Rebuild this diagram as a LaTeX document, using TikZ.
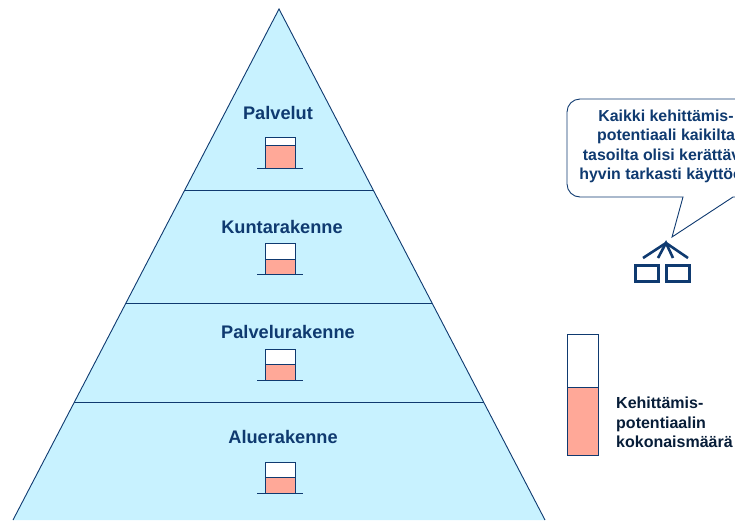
\documentclass[tikz,border=0pt]{standalone}
\usepackage{fontspec}
\setmainfont{Liberation Sans}
\usetikzlibrary{positioning}
\definecolor{navy}{HTML}{0F3A70}
\definecolor{pyrfill}{HTML}{C8F2FF}
\definecolor{barred}{HTML}{FFA898}
\tikzset{
levellabel/.style={
  font=\fontsize{18.2}{22}\selectfont\bfseries,
  text=navy,
  inner sep=0pt,
  }
}
\tikzset{
barempty/.style={
  rectangle,
  draw=navy,
  line width=0.9pt,
  fill=white,
  minimum width=30.5pt,
  inner sep=0pt,
  outer sep=0pt,
  }
}
\tikzset{
barfull/.style={
  barempty,
  fill=barred,
  }
}
\tikzset{
myline/.style={
  draw=navy,
  line width=0.9pt,
  }
}
\tikzset{
iconbox/.style={
  rectangle,
  draw=navy,
  line width=2.6pt,
  minimum width=23pt,
  minimum height=16pt,
  inner sep=0pt,
  }
}
\begin{document}
\begin{tikzpicture}[x=1pt,y=-1pt]
    \clip (0,0) rectangle (735,520);

    % pyramid
    \coordinate (apex) at (279,9);
    \coordinate (left) at (13,520);
    \coordinate (right) at (545,520);
    \path [myline, fill=pyrfill] (left) -- (apex) -- (right);
    \coordinate (sep1l) at (184.8,190);
    \coordinate (sep1r) at (373.2,190);
    \coordinate (sep2l) at (126,303);
    \coordinate (sep2r) at (432,303);
    \coordinate (sep3l) at (74.4,402);
    \coordinate (sep3r) at (483.6,402);
    \draw[myline] (sep1l) -- (sep1r);
    \draw[myline] (sep2l) -- (sep2r);
    \draw[myline] (sep3l) -- (sep3r);

    % level labels
    \node[levellabel] (palvelut) at (278,112.5) {Palvelut};
    \node[levellabel] (kunta) at (282,226.5) {Kuntarakenne};
    \node[levellabel] (palvelu) at (288,331.5) {Palvelurakenne};
    \node[levellabel] (alue) at (283,437) {Aluerakenne};

    % small bars
    \node[barempty, minimum height=8pt] (pal_e) at (280.5,141) {};
    \node[barfull, minimum height=23pt, below=0pt of pal_e] (pal_f) {};
    \draw[myline] ([xshift=-8pt]pal_f.south west) -- ([xshift=7.5pt]pal_f.south east);

    \node[barempty, minimum height=16pt] (kun_e) at (280.5,251) {};
    \node[barfull, minimum height=15pt, below=0pt of kun_e] (kun_f) {};
    \draw[myline] ([xshift=-8pt]kun_f.south west) -- ([xshift=7.5pt]kun_f.south east);

    \node[barempty, minimum height=15pt] (plv_e) at (280.5,356.5) {};
    \node[barfull, minimum height=16pt, below=0pt of plv_e] (plv_f) {};
    \draw[myline] ([xshift=-8pt]plv_f.south west) -- ([xshift=7.5pt]plv_f.south east);

    \node[barempty, minimum height=15pt] (alu_e) at (280.5,469.5) {};
    \node[barfull, minimum height=16pt, below=0pt of alu_e] (alu_f) {};
    \draw[myline] ([xshift=-8pt]alu_f.south west) -- ([xshift=7.5pt]alu_f.south east);

    % speech bubble
    \path [myline, fill=white] (683,197) -- (672,237) -- (733,197) -- (790,197) -- (790,99) -- (580,99)
        arc[start angle=270, end angle=180, radius=13] -- (567,184)
        arc[start angle=180, end angle=90, radius=13] -- cycle;
    \node[levellabel, align=center, font=\fontsize{15.9}{19.5}\selectfont\bfseries] (bubble) at (666,146.5)
        {Kaikki kehittämis-\\potentiaali kaikilta\\tasoilta olisi kerättävä\\hyvin tarkasti käyttöön};

    % people icon
    \node[iconbox] (boxl) at (647,273.5) {};
    \node[iconbox] (boxr) at (678,273.5) {};
    \coordinate (roof) at (666,243);
    \draw[navy, line width=2.6pt] (643,258) -- (roof) -- (688,258);
    \draw[navy, line width=2.6pt] (658,258) -- (roof) -- (673,258);

    % legend
    \node[barempty, minimum height=53pt] (leg_e) at (583,360.5) {};
    \node[barfull, minimum height=68pt, below=0pt of leg_e] (leg_f) {};
    \node[levellabel, anchor=west, align=left, text=black!50!navy, font=\fontsize{16}{19.3}\selectfont\bfseries] (leg_t) at (616,422.5)
        {Kehittämis-\\potentiaalin\\kokonaismäärä};
\end{tikzpicture}
\end{document}
